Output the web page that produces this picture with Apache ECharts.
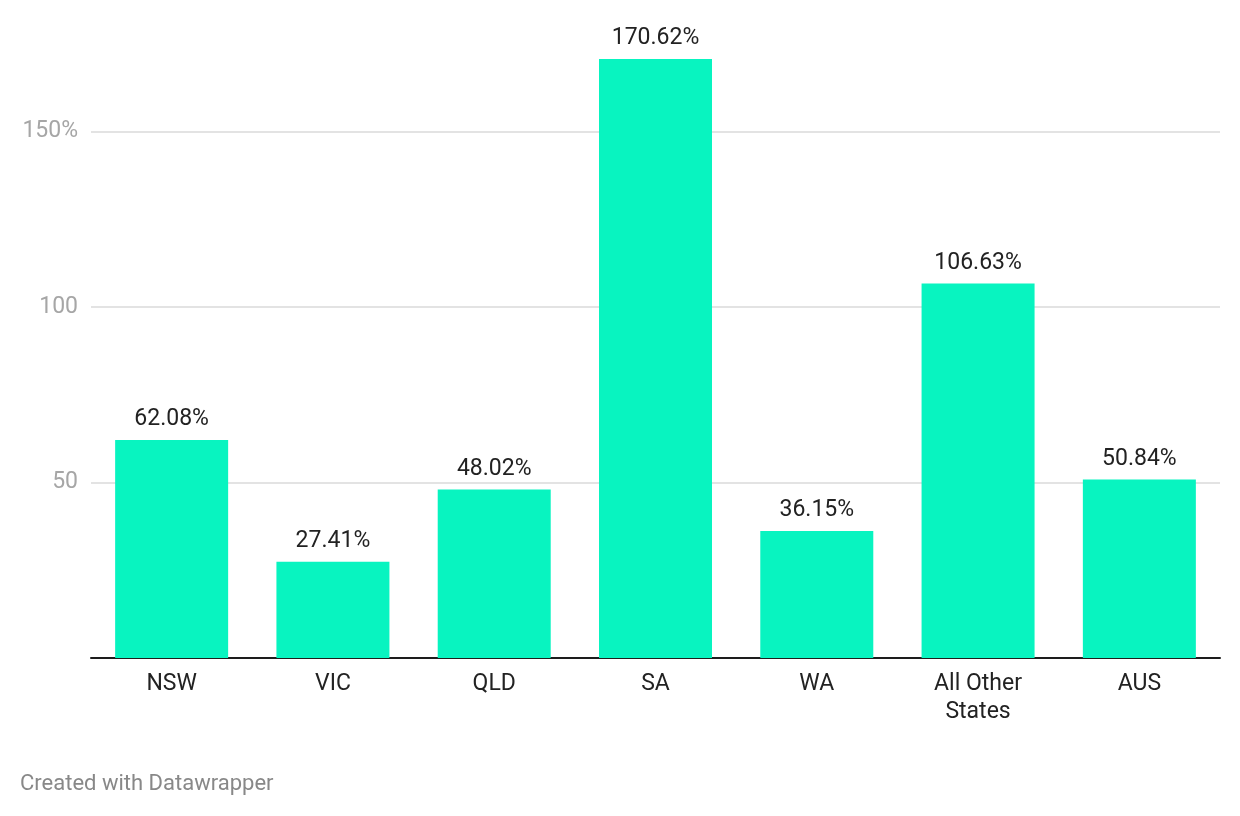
<!DOCTYPE html>
<html>
<head>
<meta charset="utf-8">
<script src="https://cdn.jsdelivr.net/npm/echarts@6/dist/echarts.min.js"></script>
<style>
html,body{margin:0;padding:0;background:#fff;}
#chart{width:1240px;height:816px;}
</style>
</head>
<body>
<div id="chart"></div>
<script>
const categories = ['NSW', 'VIC', 'QLD', 'SA', 'WA', 'All Other\nStates', 'AUS'];
const values = [62.08, 27.41, 48.02, 170.62, 36.15, 106.63, 50.84];
const yTicks = [50, 100, 150];

const chart = echarts.init(document.getElementById('chart'), null, {renderer: 'canvas'});
chart.setOption({
  backgroundColor: '#ffffff',
  animation: false,
  textStyle: {fontFamily: 'Roboto'},
  grid: {left: 91, right: 20, top: 26, bottom: 158, containLabel: false},
  xAxis: {
    type: 'category',
    data: categories,
    axisLine: {show: true, lineStyle: {color: '#1d1d1d', width: 2}},
    axisTick: {show: false},
    axisLabel: {color: '#222222', fontSize: 23, fontFamily: 'Roboto', margin: 12, lineHeight: 28}
  },
  yAxis: {
    type: 'value',
    min: 0,
    max: 180,
    interval: 50,
    axisLine: {show: false},
    axisTick: {show: false},
    splitLine: {show: true, showMinLine: false, showMaxLine: false, lineStyle: {color: '#e3e3e3', width: 2}},
    axisLabel: {
      showMinLabel: false,
      showMaxLabel: false,
      color: '#a6a6a6',
      fontSize: 23,
      fontFamily: 'Roboto',
      margin: 13,
      formatter: function (v) {
        if (yTicks.indexOf(v) < 0) return '';
        return v === 150 ? v + '%' : String(v);
      }
    }
  },
  series: [{
    type: 'bar',
    data: values,
    barWidth: 113,
    itemStyle: {color: '#08f4c0'},
    label: {
      show: true,
      position: 'top',
      distance: 9,
      color: '#222222',
      fontSize: 23,
      fontFamily: 'Roboto',
      formatter: function (p) { return p.value.toFixed(2) + '%'; }
    }
  }],
  graphic: [{
    type: 'text',
    left: 20,
    top: 773,
    style: {text: 'Created with Datawrapper', fill: '#888888', fontSize: 22, fontFamily: 'Roboto'}
  }]
});
</script>
</body>
</html>
